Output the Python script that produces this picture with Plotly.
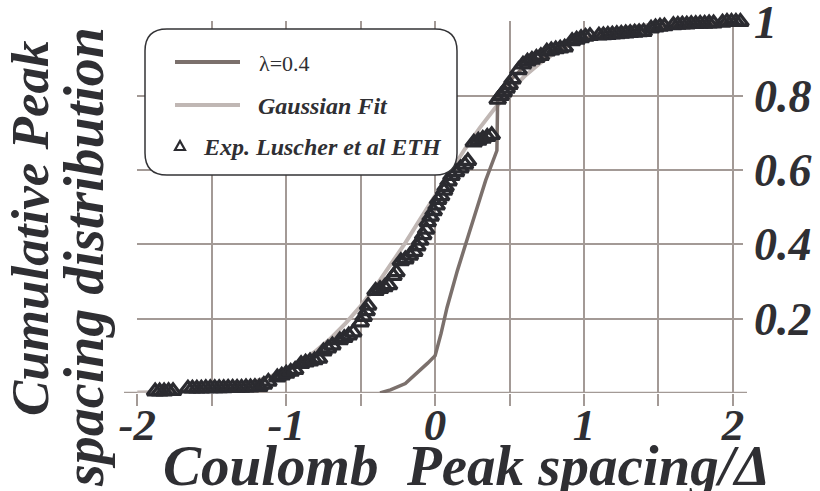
import plotly.graph_objects as go

# ---------------- data ----------------
exp_x = [-1.88, -1.85, -1.82, -1.79, -1.76,
         -1.66, -1.63, -1.60, -1.57, -1.54, -1.51, -1.48, -1.45, -1.42, -1.39,
         -1.36, -1.33, -1.30, -1.27, -1.24, -1.21, -1.18,
         -1.15, -1.12,
         -1.06, -1.03, -1.00, -0.97, -0.94,
         -0.90, -0.87, -0.84, -0.81, -0.78,
         -0.75, -0.72, -0.69,
         -0.64, -0.61, -0.58, -0.55,
         -0.50, -0.48, -0.46, -0.45,
         -0.40, -0.37, -0.34, -0.31,
         -0.28, -0.26,
         -0.23, -0.20, -0.17, -0.14,
         -0.12, -0.10, -0.08, -0.06,
         -0.05, -0.03, -0.01, 0.01,
         0.02, 0.04, 0.06, 0.07, 0.09,
         0.11, 0.14, 0.17, 0.20, 0.22,
         0.26, 0.29, 0.32, 0.35, 0.38,
         0.42, 0.44, 0.46, 0.48, 0.50, 0.52,
         0.56, 0.59, 0.62, 0.65, 0.68, 0.71,
         0.75, 0.78, 0.81, 0.84, 0.87,
         0.92, 0.95, 0.98, 1.01, 1.04,
         1.10, 1.13, 1.16, 1.19, 1.22, 1.25, 1.28, 1.31, 1.34, 1.37, 1.40,
         1.45, 1.48, 1.51, 1.54,
         1.60, 1.63, 1.66, 1.69, 1.72, 1.75, 1.78, 1.81, 1.84, 1.87,
         1.93, 1.96, 1.99, 2.02, 2.05]
exp_y = [0.004, 0.004, 0.004, 0.005, 0.005,
         0.012, 0.012, 0.012, 0.012, 0.013, 0.013, 0.013, 0.013, 0.013, 0.014,
         0.014, 0.014, 0.014, 0.015, 0.015, 0.016, 0.016,
         0.022, 0.030,
         0.042, 0.047, 0.052, 0.057, 0.062,
         0.078, 0.082, 0.085, 0.088, 0.092,
         0.112, 0.120, 0.128,
         0.142, 0.148, 0.155, 0.163,
         0.190, 0.205, 0.220, 0.235,
         0.275, 0.280, 0.285, 0.290,
         0.315, 0.325,
         0.355, 0.360, 0.370, 0.380,
         0.395, 0.410, 0.425, 0.440,
         0.460, 0.475, 0.490, 0.505,
         0.520, 0.530, 0.545, 0.555, 0.570,
         0.585, 0.595, 0.605, 0.615, 0.625,
         0.675, 0.680, 0.685, 0.690, 0.695,
         0.790, 0.800, 0.810, 0.820, 0.830, 0.845,
         0.870, 0.885, 0.893, 0.898, 0.903, 0.908,
         0.920, 0.923, 0.926, 0.928, 0.931,
         0.948, 0.952, 0.956, 0.960, 0.962,
         0.963, 0.964, 0.965, 0.966, 0.967, 0.968, 0.969, 0.970, 0.971, 0.972, 0.973,
         0.982, 0.985, 0.987, 0.988,
         0.991, 0.992, 0.993, 0.993, 0.994, 0.994, 0.995, 0.995, 0.996, 0.996,
         0.998, 1.000, 1.000, 1.000, 1.000]

gauss_x = [-2.0, -1.9, -1.8, -1.7, -1.6, -1.5, -1.4, -1.3, -1.2, -1.1, -1.0,
           -0.9, -0.8, -0.7, -0.6, -0.5, -0.4, -0.3, -0.2, -0.1, 0.0,
           0.1, 0.2, 0.3, 0.4, 0.5, 0.6, 0.7, 0.8, 0.9, 1.0,
           1.1, 1.2, 1.3, 1.4, 1.5, 1.6, 1.7, 1.8, 1.9, 2.0]
gauss_y = [0.001, 0.001, 0.002, 0.004, 0.006, 0.010, 0.015, 0.022, 0.032, 0.045, 0.063,
           0.085, 0.113, 0.147, 0.188, 0.234, 0.286, 0.343, 0.404, 0.468, 0.532,
           0.596, 0.657, 0.714, 0.766, 0.812, 0.853, 0.887, 0.915, 0.937, 0.955,
           0.968, 0.978, 0.985, 0.990, 0.994, 0.996, 0.998, 0.999, 0.999, 1.000]

lam_x = [-0.37, -0.30, -0.20, -0.15, -0.10, -0.05, 0.00, 0.04, 0.08, 0.15, 0.22,
         0.30, 0.34, 0.415, 0.42, 0.50, 0.60, 0.70, 0.80, 1.00, 1.20, 1.40, 1.60, 2.00]
lam_y = [0.000, 0.008, 0.025, 0.043, 0.060, 0.080, 0.100, 0.160, 0.230, 0.330, 0.420,
         0.520, 0.573, 0.653, 0.800, 0.840, 0.880, 0.900, 0.920, 0.955, 0.968, 0.978, 0.990, 1.000]

x_tickvals = [-2, -1.5, -1, -0.5, 0, 0.5, 1, 1.5, 2]
x_ticktext = ["-2", "", "-1", "", "0", "", "1", "", "2"]
y_tickvals = [0, 0.2, 0.4, 0.6, 0.8, 1.0]
y_ticktext = ["", "0.2", "0.4", "0.6", "0.8", "1"]

legend_names = ["\u03bb=0.4", "Gaussian Fit", "Exp. Luscher et al ETH"]
x_title = "Coulomb\u00a0\u00a0Peak spacing/\u0394"
y_title_lines = ["Cumulative Peak", "spacing distribution"]

# ---------------- style ----------------
W, H = 820, 491
L, R, T, B = 137, 77, 21, 98
PW, PH = W - L - R, H - T - B
GRID = "#a39a96"
LAM = "#7b706c"
GAU = "#c0b7b4"
MK = "#2b2b30"
TXT = "#2f2f33"
SERIF = "Liberation Serif"


def px(xp):
    return (xp - L) / PW


def py(yp):
    return (H - B - yp) / PH


fig = go.Figure()
fig.add_trace(go.Scatter(x=gauss_x, y=gauss_y, mode="lines", name=legend_names[1],
                         line=dict(color=GAU, width=4), cliponaxis=False, showlegend=False))
fig.add_trace(go.Scatter(x=lam_x, y=lam_y, mode="lines", name=legend_names[0],
                         line=dict(color=LAM, width=3.5), cliponaxis=False, showlegend=False))
fig.add_trace(go.Scatter(x=exp_x, y=exp_y, mode="markers", name=legend_names[2],
                         marker=dict(symbol="triangle-up-open", size=14, color=MK,
                                     line=dict(width=3.3, color=MK)),
                         cliponaxis=False, showlegend=False))

shapes = []
# extended bottom axis line
shapes.append(dict(type="line", xref="paper", yref="y", x0=px(124), x1=px(747), y0=0, y1=0,
                   line=dict(color=GRID, width=2), layer="below"))

# legend box with rounded corners
bx0, bx1, by0, by1 = px(145), px(457), py(175), py(29)
rx, ry = 22 / PW, 22 / PH
path = (f"M {bx0+rx},{by1} L {bx1-rx},{by1} Q {bx1},{by1} {bx1},{by1-ry} "
        f"L {bx1},{by0+ry} Q {bx1},{by0} {bx1-rx},{by0} L {bx0+rx},{by0} "
        f"Q {bx0},{by0} {bx0},{by0+ry} L {bx0},{by1-ry} Q {bx0},{by1} {bx0+rx},{by1} Z")
shapes.append(dict(type="path", xref="paper", yref="paper", path=path,
                   fillcolor="white", line=dict(color="#333336", width=1.5), layer="above"))
shapes.append(dict(type="line", xref="paper", yref="paper", x0=px(175), x1=px(240),
                   y0=py(62), y1=py(62), line=dict(color=LAM, width=4), layer="above"))
shapes.append(dict(type="line", xref="paper", yref="paper", x0=px(175), x1=px(240),
                   y0=py(105), y1=py(105), line=dict(color=GAU, width=4), layer="above"))
tcx, tcy = 180, 146
tri = (f"M {px(tcx-5)},{py(tcy+4)} L {px(tcx+5)},{py(tcy+4)} L {px(tcx)},{py(tcy-5)} Z")
shapes.append(dict(type="path", xref="paper", yref="paper", path=tri,
                   fillcolor="rgba(0,0,0,0)", line=dict(color=MK, width=2.2), layer="above"))

bi = dict(family=SERIF, color=TXT, weight="bold", style="italic")
annotations = [
    dict(xref="paper", yref="paper", x=px(257), y=py(63), xanchor="left", yanchor="middle",
         text=legend_names[0], showarrow=False,
         font=dict(family=SERIF, size=22, color=TXT)),
    dict(xref="paper", yref="paper", x=px(256), y=py(106), xanchor="left", yanchor="middle",
         text=legend_names[1], showarrow=False, font=dict(size=24, **bi)),
    dict(xref="paper", yref="paper", x=px(201), y=py(147), xanchor="left", yanchor="middle",
         text=legend_names[2], showarrow=False, font=dict(size=24, **bi)),
    dict(xref="paper", yref="paper", x=px(466), y=py(465), xanchor="center", yanchor="middle",
         text=x_title, showarrow=False, font=dict(size=57, **bi)),
    dict(xref="paper", yref="paper", x=px(30), y=py(228), xanchor="center", yanchor="middle",
         text=y_title_lines[0], textangle=-90, showarrow=False, font=dict(size=53, **bi)),
    dict(xref="paper", yref="paper", x=px(84), y=py(257), xanchor="center", yanchor="middle",
         text=y_title_lines[1], textangle=-90, showarrow=False, font=dict(size=56, **bi)),
]

fig.update_layout(
    width=W, height=H, autosize=False,
    margin=dict(l=L, r=R, t=T, b=B, pad=0, autoexpand=False),
    paper_bgcolor="white", plot_bgcolor="white",
    shapes=shapes, annotations=annotations, showlegend=False,
    xaxis=dict(range=[-2.002, 2.0675], tickvals=x_tickvals, ticktext=x_ticktext,
               ticks="outside", ticklen=12, tickwidth=2, tickcolor=GRID,
               ticklabelstandoff=-20, ticklabeloverflow="allow", automargin=False,
               showgrid=True, gridcolor=GRID, gridwidth=2, zeroline=False, showline=False,
               tickfont=dict(size=45, **bi), fixedrange=True),
    yaxis=dict(range=[-0.0005, 1.002], side="right", tickvals=y_tickvals, ticktext=y_ticktext,
               ticks="", ticklabelstandoff=10, ticklabeloverflow="allow", automargin=False,
               showgrid=True, gridcolor=GRID, gridwidth=2, zeroline=False, showline=False,
               tickfont=dict(size=46, **bi), fixedrange=True),
)

fig.write_html("out.html")
